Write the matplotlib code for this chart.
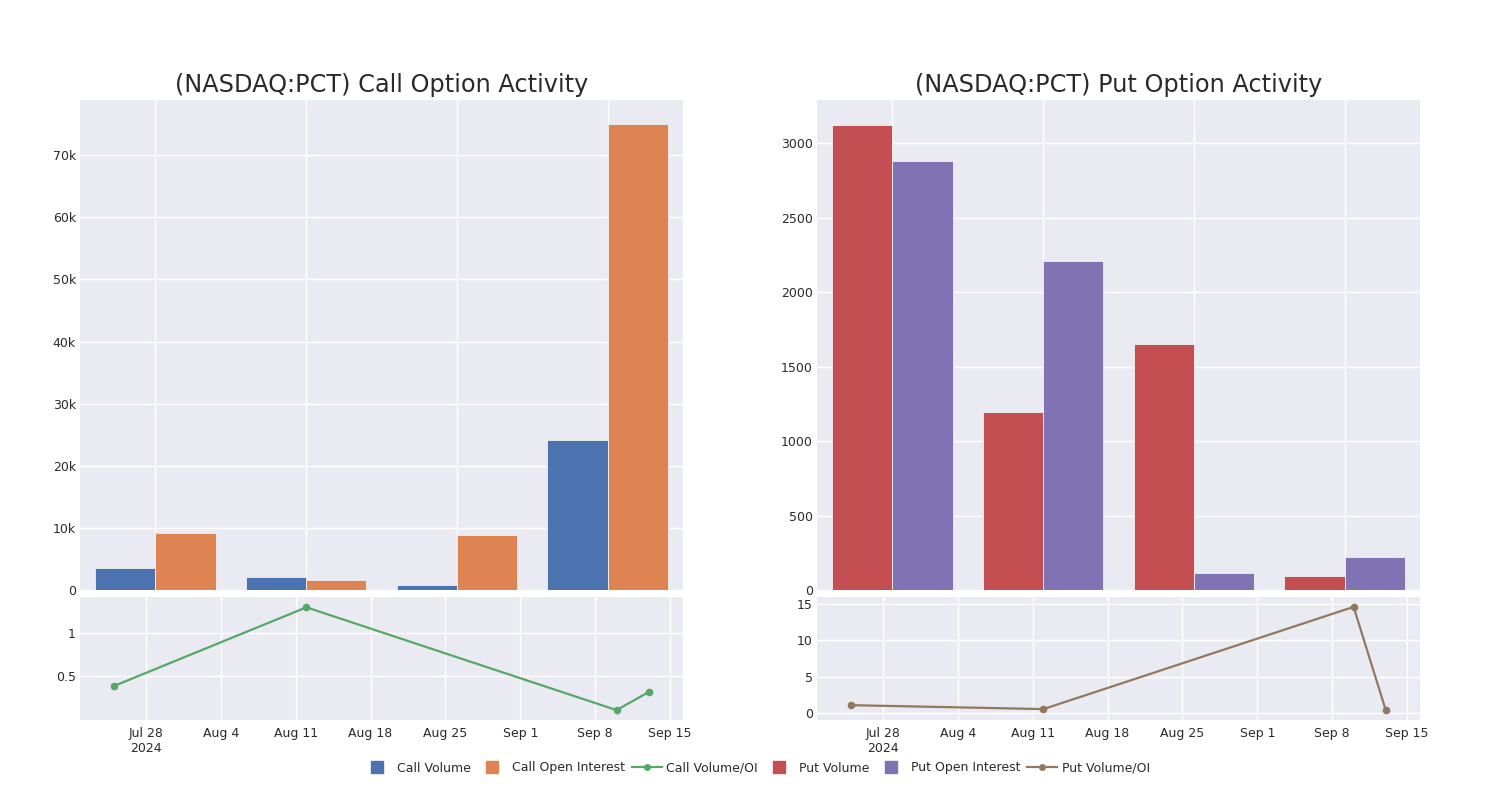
import datetime as dt
import matplotlib
matplotlib.use('Agg')
import matplotlib.pyplot as plt
from matplotlib.ticker import FuncFormatter
from matplotlib.lines import Line2D

# data
groups = ['Jul 25', 'Aug 12', 'Sep 10', 'Sep 13']
call_volume = [3540, 2090, 820, 24150]
call_oi = [9170, 1610, 8850, 75000]
put_volume = [3120, 1195, 1651, 94]
put_oi = [2880, 2208, 113, 221]
ratio_dates = [dt.datetime(2024, 7, 25), dt.datetime(2024, 8, 12), dt.datetime(2024, 9, 10), dt.datetime(2024, 9, 13)]
call_ratio = [0.385, 1.30, 0.105, 0.315]
put_ratio = [1.08, 0.54, 14.6, 0.43]

tick_dates = [dt.datetime(2024, 7, 28) + dt.timedelta(days=7 * i) for i in range(8)]
tick_labels = ['Jul 28\n2024', 'Aug 4', 'Aug 11', 'Aug 18', 'Aug 25', 'Sep 1', 'Sep 8', 'Sep 15']

BG = '#EAEAF2'
TXT = '#2a2a2a'
c_blue, c_orange, c_green = '#4C72B0', '#DD8452', '#55A868'
c_red, c_purple, c_brown = '#C44E52', '#8172B3', '#937860'

W, H = 1500, 800
fig = plt.figure(figsize=(15, 8), dpi=100)


def box(x0, y0, x1, y1):
    return [x0 / W, 1 - y1 / H, (x1 - x0) / W, (y1 - y0) / H]


def style(ax):
    ax.set_facecolor(BG)
    for s in ax.spines.values():
        s.set_visible(False)
    ax.grid(True, color='white', linewidth=1)
    ax.set_axisbelow(True)
    ax.tick_params(length=0, labelsize=9, colors=TXT)
    ax.tick_params(axis='y', pad=3)
    ax.tick_params(axis='x', pad=5)


def kfmt(v, pos):
    if v == 0:
        return '0'
    return '%dk' % round(v / 1000)


def bars(ax, vol, oi, c1, c2, ymax, fmt=None):
    style(ax)
    x = range(len(groups))
    ax.bar([i - 0.2 for i in x], vol, width=0.4, color=c1, edgecolor='#f0f0f0', linewidth=0.6)
    ax.bar([i + 0.2 for i in x], oi, width=0.4, color=c2, edgecolor='#f0f0f0', linewidth=0.6)
    ax.set_xlim(-0.5, 3.5)
    ax.set_xticks(list(x))
    ax.set_xticklabels([])
    ax.set_ylim(0, ymax)
    if fmt:
        ax.yaxis.set_major_formatter(FuncFormatter(fmt))


def ratio(ax, vals, color, ylim, yticks, yticklabels):
    style(ax)
    ax.plot(ratio_dates, vals, color=color, linewidth=1.6, marker='o', markersize=4.5)
    ax.set_xlim(dt.datetime(2024, 7, 21, 20), dt.datetime(2024, 9, 16, 5))
    ax.set_xticks(tick_dates)
    ax.set_xticklabels(tick_labels)
    ax.set_ylim(*ylim)
    ax.set_yticks(yticks)
    ax.set_yticklabels(yticklabels)


ax1 = fig.add_axes(box(80, 100, 683, 590))
bars(ax1, call_volume, call_oi, c_blue, c_orange, 78900, kfmt)
ax1.set_yticks(range(0, 70001, 10000))
ax1.set_title('(NASDAQ:PCT) Call Option Activity', fontsize=17.3, color=TXT, pad=5.5)

ax2 = fig.add_axes(box(817, 100, 1420, 590))
bars(ax2, put_volume, put_oi, c_red, c_purple, 3290)
ax2.set_yticks(range(0, 3001, 500))
ax2.set_title('(NASDAQ:PCT) Put Option Activity', fontsize=17.3, color=TXT, pad=5.5)

ax3 = fig.add_axes(box(80, 597, 683, 720))
ratio(ax3, call_ratio, c_green, (-0.01, 1.42), [0.5, 1], ['0.5', '1'])

ax4 = fig.add_axes(box(817, 597, 1420, 720))
ratio(ax4, put_ratio, c_brown, (-0.96, 15.96), [0, 5, 10, 15], ['0', '5', '10', '15'])

handles = [
    Line2D([], [], color=c_blue, marker='s', markersize=8, linestyle='none', label='Call Volume'),
    Line2D([], [], color=c_orange, marker='s', markersize=8, linestyle='none', label='Call Open Interest'),
    Line2D([], [], color=c_green, marker='o', markersize=4, linewidth=1.6, label='Call Volume/OI'),
    Line2D([], [], color=c_red, marker='s', markersize=8, linestyle='none', label='Put Volume'),
    Line2D([], [], color=c_purple, marker='s', markersize=8, linestyle='none', label='Put Open Interest'),
    Line2D([], [], color=c_brown, marker='o', markersize=4, linewidth=1.6, label='Put Volume/OI'),
]
leg = fig.legend(handles=handles, loc='center', bbox_to_anchor=(0.504, 1 - 768 / H), ncol=6,
                 frameon=False, fontsize=9, handlelength=2.4, columnspacing=0.5,
                 handletextpad=0.4)
for t in leg.get_texts():
    t.set_color(TXT)

fig.savefig('out.png', dpi=100, facecolor='white')
